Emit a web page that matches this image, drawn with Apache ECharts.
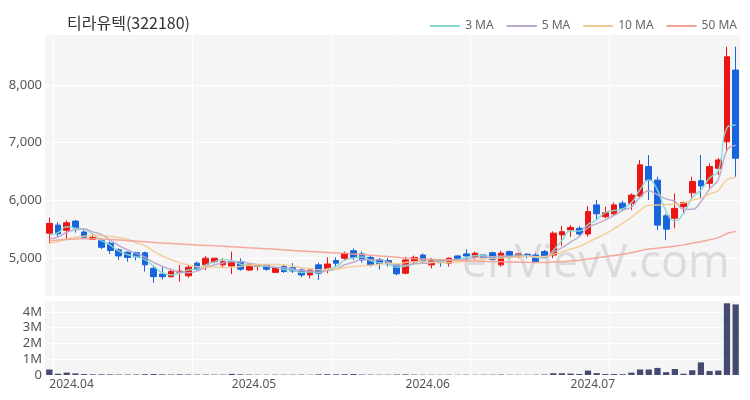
<!DOCTYPE html>
<html><head><meta charset="utf-8">
<script src="https://cdn.jsdelivr.net/npm/echarts@6/dist/echarts.min.js"></script>
<style>html,body{margin:0;padding:0;background:#fff}#c{width:750px;height:400px}</style>
</head><body><div id="c"></div>
<script>
const title = '티라유텍(322180)';
const dates = [
'2024-04-01','2024-04-02','2024-04-03','2024-04-04','2024-04-05','2024-04-08','2024-04-09','2024-04-11','2024-04-12','2024-04-15',
'2024-04-16','2024-04-17','2024-04-18','2024-04-19','2024-04-22','2024-04-23','2024-04-24','2024-04-25','2024-04-26','2024-04-29',
'2024-04-30','2024-05-02','2024-05-03','2024-05-07','2024-05-08','2024-05-09','2024-05-10','2024-05-13','2024-05-14','2024-05-16',
'2024-05-17','2024-05-20','2024-05-21','2024-05-22','2024-05-23','2024-05-24','2024-05-27','2024-05-28','2024-05-29','2024-05-30',
'2024-05-31','2024-06-03','2024-06-04','2024-06-05','2024-06-07','2024-06-10','2024-06-11','2024-06-12','2024-06-13','2024-06-14',
'2024-06-17','2024-06-18','2024-06-19','2024-06-20','2024-06-21','2024-06-24','2024-06-25','2024-06-26','2024-06-27','2024-06-28',
'2024-07-01','2024-07-02','2024-07-03','2024-07-04','2024-07-05','2024-07-08','2024-07-09','2024-07-10','2024-07-11','2024-07-12',
'2024-07-15','2024-07-16','2024-07-17','2024-07-18','2024-07-19','2024-07-22','2024-07-23','2024-07-24','2024-07-25','2024-07-26'];
const opens = [
5430,5570,5480,5640,5450,5325,5300,5255,5140,5100,
5090,5090,4820,4720,4675,4750,4690,4910,4880,4935,
4880,4860,4935,4790,4850,4880,4750,4850,4830,4790,
4705,4880,4805,4955,4995,5125,5070,5010,4975,4955,
4880,4735,4935,5050,4880,4955,4910,5035,5070,5010,
5050,5090,4880,5110,5025,5065,5050,5110,5050,5400,
5485,5515,5415,5920,5715,5765,5950,5950,6075,6585,
6350,5730,5690,5890,6130,6340,6295,6555,7015,8260];
const closes = [
5600,5420,5610,5520,5360,5355,5185,5130,5035,5010,
5020,4880,4675,4675,4765,4770,4840,4805,4995,4995,
4935,4935,4805,4880,4880,4805,4830,4765,4775,4705,
4790,4735,4895,4910,5080,5010,4965,4880,4900,4895,
4725,4965,5010,4935,4955,4920,4995,4995,5035,5080,
5010,4975,5080,5010,5070,5025,4935,5025,5430,5455,
5530,5415,5805,5765,5785,5920,5860,6090,6615,6350,
5570,5500,5860,5960,6325,6250,6585,6700,8490,6730];
const lows = [
5250,5370,5330,5440,5330,5320,5155,5070,4965,4935,
4960,4765,4570,4630,4665,4590,4660,4780,4790,4910,
4840,4720,4780,4775,4780,4775,4740,4740,4740,4665,
4650,4620,4735,4850,4960,4965,4920,4850,4800,4850,
4700,4720,4890,4910,4820,4850,4850,4970,4935,4975,
4990,4960,4850,4990,4990,4990,4920,5000,4995,5210,
5365,5380,5370,5670,5690,5740,5830,5830,6060,6005,
5485,5310,5515,5765,6035,6035,6210,6440,6845,6410];
const highs = [
5700,5620,5650,5660,5480,5420,5340,5285,5170,5110,
5110,5110,4860,4860,4800,4880,4880,4935,5035,5000,
4995,5110,4995,4890,4885,4890,4840,4880,4910,4820,
4800,4920,5010,5010,5110,5165,5110,5040,5000,5000,
4890,5020,5040,5080,5000,4970,5010,5045,5150,5110,
5060,5110,5125,5130,5080,5080,5080,5140,5460,5555,
5570,5550,5900,6005,5890,5960,5990,6120,6700,6785,
6410,5765,6120,5975,6410,6785,6640,6730,8665,8665];
const volumes = [
350000,80000,150000,100000,60000,40000,40000,40000,30000,30000,
30000,50000,60000,40000,30000,40000,30000,25000,30000,25000,
25000,70000,40000,25000,20000,20000,20000,20000,20000,25000,
20000,40000,50000,40000,50000,60000,30000,25000,20000,20000,
30000,40000,25000,20000,20000,15000,20000,15000,20000,15000,
20000,20000,30000,20000,15000,15000,20000,30000,110000,110000,
90000,60000,280000,120000,60000,60000,50000,150000,350000,350000,
450000,180000,380000,80000,300000,800000,250000,280000,4550000,4480000];
// closes before the first shown day, estimated from where the 3/5/10 MA lines start
const priorCloses = [5150,5180,5200,5170,5220,5250,5200,5300,5300];
const ma50 = [
5300,5310,5320,5330,5335,5335,5330,5320,5310,5300,
5290,5280,5270,5260,5250,5240,5232,5225,5218,5210,
5203,5195,5187,5178,5170,5160,5150,5140,5130,5120,
5112,5104,5096,5088,5080,5070,5060,5048,5036,5024,
5012,4998,4990,4983,4976,4970,4964,4958,4952,4947,
4942,4938,4934,4930,4927,4924,4922,4920,4929,4938,
4950,4962,4982,5002,5022,5044,5064,5089,5125,5155,
5170,5185,5205,5227,5255,5282,5316,5352,5424,5460];
const legendNames = ['3 MA','5 MA','10 MA','50 MA'];
const maColors = ['#86d9cf','#b9a9cc','#f4cb92','#f5a092'];
const monthStart = [0,21,41,60];

function movingAvg(n){
  const all = priorCloses.concat(closes);
  const off = priorCloses.length;
  return closes.map((_, i) => {
    let s = 0;
    for (let k = 0; k < n; k++) s += all[off + i - k];
    return Math.round(s / n);
  });
}
const candle = opens.map((o,i)=>[o, closes[i], lows[i], highs[i]]);
const up = '#ee1414', down = '#1764dc';

const chart = echarts.init(document.getElementById('c'));
const font = 'Noto Sans';
const splitX = { show: true, interval: (i)=> i % 16 === 1, lineStyle: { color: '#ffffff', width: 1 } };
chart.setOption({
  animation: false,
  backgroundColor: '#ffffff',
  title: { text: title, left: 62, top: 10, textStyle: { fontSize: 16, fontWeight: 'normal', color: '#333', fontFamily: 'Noto Sans CJK KR' } },
  legend: {
    data: legendNames, right: 8, top: 15, icon: 'rect', itemWidth: 30, itemHeight: 2, itemGap: 13,
    textStyle: { fontSize: 12, color: '#666', fontFamily: font }
  },
  grid: [
    { left: 45, right: 10, top: 34, height: 262, show: true, backgroundColor: '#f5f5f5', borderWidth: 0 },
    { left: 45, right: 10, top: 300, height: 75, show: true, backgroundColor: '#f5f5f5', borderWidth: 0 }
  ],
  xAxis: [
    { type: 'category', data: dates, gridIndex: 0, boundaryGap: true,
      axisLine: { show: false }, axisTick: { show: false }, axisLabel: { show: false }, splitLine: splitX },
    { type: 'category', data: dates, gridIndex: 1, boundaryGap: true,
      axisLine: { show: false }, axisTick: { show: false }, splitLine: splitX,
      axisLabel: { interval: (i)=> monthStart.indexOf(i) >= 0, align: 'left', margin: 4, fontSize: 12, color: '#555', fontFamily: font,
        formatter: (v)=> v.slice(0,7).replace('-', '.') } }
  ],
  yAxis: [
    { type: 'value', gridIndex: 0, min: 4340, max: 8885, splitNumber: 5,
      axisLine: { show: false }, axisTick: { show: false },
      splitLine: { lineStyle: { color: '#ffffff' } },
      axisLabel: { fontSize: 13, color: '#555', fontFamily: font, margin: 3, showMinLabel: false, showMaxLabel: false,
        formatter: (v)=> v.toLocaleString('en-US') } },
    { type: 'value', gridIndex: 1, min: 0, max: 4760000, interval: 1000000,
      axisLine: { show: false }, axisTick: { show: false },
      splitLine: { lineStyle: { color: '#ffffff' } },
      axisLabel: { fontSize: 13, color: '#555', fontFamily: font, margin: 3, showMaxLabel: false,
        formatter: (v)=> v === 0 ? '0' : (v/1000000) + 'M' } }
  ],
  graphic: [{
    type: 'text', left: 462, top: 242, z: 1, silent: true,
    style: { text: 'enVievV.com', fontSize: 45, fontWeight: 'normal', fontFamily: 'Open Sans', fill: 'rgba(175,175,175,0.38)' }
  }],
  series: [
    { type: 'candlestick', name: 'price', xAxisIndex: 0, yAxisIndex: 0, data: candle, barWidth: '72%',
      itemStyle: { color: up, color0: down, borderColor: up, borderColor0: down, borderWidth: 1 } },
    ...[3,5,10].map((n, k)=>({ type: 'line', name: legendNames[k], xAxisIndex: 0, yAxisIndex: 0, data: movingAvg(n),
      smooth: true, showSymbol: false, lineStyle: { width: 1.5, color: maColors[k], opacity: 0.9 }, itemStyle: { color: maColors[k] } })),
    { type: 'line', name: legendNames[3], xAxisIndex: 0, yAxisIndex: 0, data: ma50, smooth: true, showSymbol: false,
      lineStyle: { width: 1.5, color: maColors[3], opacity: 0.9 }, itemStyle: { color: maColors[3] } },
    { type: 'bar', name: 'volume', xAxisIndex: 1, yAxisIndex: 1, data: volumes, barWidth: '72%',
      itemStyle: { color: '#454a72' } }
  ]
});
</script></body></html>
